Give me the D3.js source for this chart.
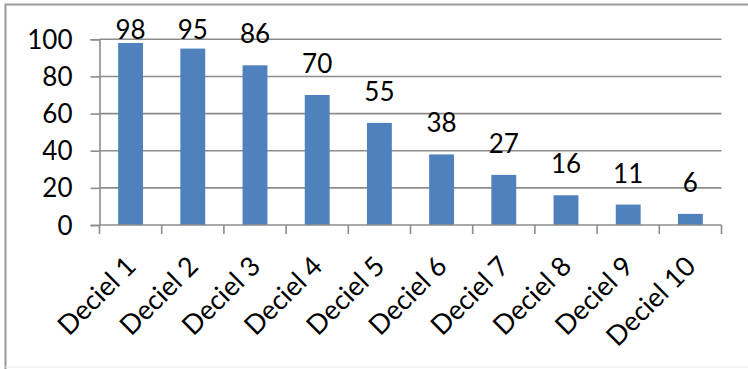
<!DOCTYPE html>
<html>
<head>
<meta charset="utf-8">
<script src="https://cdn.jsdelivr.net/npm/d3@7"></script>
<style>
html,body{margin:0;padding:0;background:#fff;}
svg{display:block;}
text{font-family:Lato,"Open Sans",sans-serif;fill:#000;}
</style>
</head>
<body>
<svg id="chart" width="748" height="369"></svg>
<script>
const categories = ["Deciel 1","Deciel 2","Deciel 3","Deciel 4","Deciel 5","Deciel 6","Deciel 7","Deciel 8","Deciel 9","Deciel 10"];
const values = [98,95,86,70,55,38,27,16,11,6];
const yTicks = [0,20,40,60,80,100];

const svg = d3.select("#chart");
const W = 748, H = 369;

// outer chart border (cropped on right)
svg.append("path").attr("d","M5.5,369 L5.5,4.5 L748,4.5")
  .attr("fill","none").attr("stroke","#9a9a9a").attr("stroke-width",2);
svg.append("line").attr("x1",5).attr("x2",748).attr("y1",367).attr("y2",367)
  .attr("stroke","#ececec").attr("stroke-width",1);

const x0 = 99.5, x1 = 721.5, yB = 225, yT = 39.3;
const x = d3.scaleBand().domain(categories).range([x0,x1]).paddingInner(0.6).paddingOuter(0.3);
const y = d3.scaleLinear().domain([0,100]).range([yB,yT]);
const grid = "#8c8c8c";

// gridlines
svg.append("g").selectAll("line").data(yTicks.filter(d=>d>0)).join("line")
  .attr("x1",x0).attr("x2",x1).attr("y1",d=>y(d)).attr("y2",d=>y(d))
  .attr("stroke",grid).attr("stroke-width",1.6);

// y axis
const yAxis = svg.append("g").attr("transform",`translate(${x0},0)`)
  .call(d3.axisLeft(y).tickValues(yTicks).tickSize(9).tickPadding(18).tickFormat(d3.format("d")));
yAxis.select(".domain").attr("stroke",grid).attr("stroke-width",1.6);
yAxis.selectAll(".tick line").attr("stroke",grid).attr("stroke-width",1.6);
yAxis.selectAll(".tick text").attr("font-size",26).attr("font-family","Lato").attr("fill","#000").attr("dy","0.35em");

// bars
svg.append("g").selectAll("rect").data(values).join("rect")
  .attr("x",(d,i)=>x(categories[i])).attr("width",x.bandwidth())
  .attr("y",d=>y(d)).attr("height",d=>yB-y(d))
  .attr("fill","#4F81BD");

// x axis
const step = x.step();
const xb = svg.append("g");
xb.append("line").attr("x1",x0).attr("x2",x1).attr("y1",yB).attr("y2",yB)
  .attr("stroke",grid).attr("stroke-width",1.6);
xb.selectAll("line.t").data(d3.range(categories.length+1)).join("line").attr("class","t")
  .attr("x1",i=>x0+i*step).attr("x2",i=>x0+i*step).attr("y1",yB).attr("y2",yB+9)
  .attr("stroke",grid).attr("stroke-width",1.6);
xb.selectAll("text").data(categories).join("text")
  .attr("transform",d=>`translate(${x(d)+x.bandwidth()/2+7},268) rotate(-45)`)
  .attr("text-anchor","end").attr("font-size",27).text(d=>d);

// data labels
svg.append("g").selectAll("text").data(values).join("text")
  .attr("x",(d,i)=>x(categories[i])+x.bandwidth()/2)
  .attr("y",d=>Math.max(y(d)-22, 39))
  .attr("text-anchor","middle").attr("font-size",26).text(d=>d);
</script>
</body>
</html>
